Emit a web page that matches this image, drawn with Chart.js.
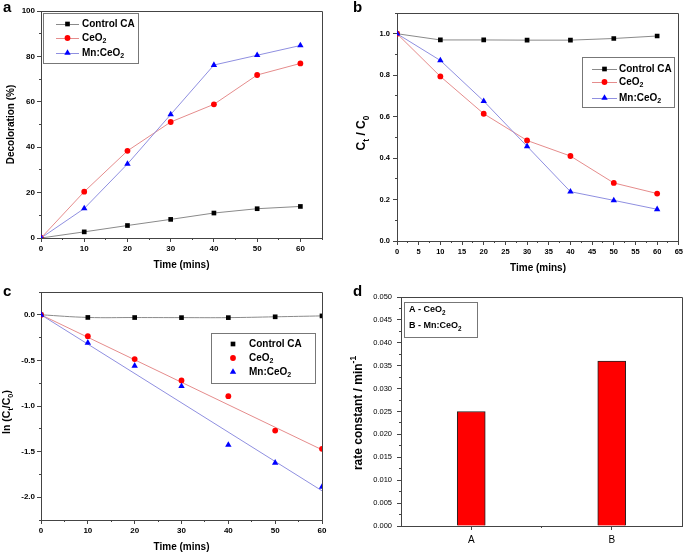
<!DOCTYPE html>
<html>
<head>
<meta charset="utf-8">
<script src="https://cdn.jsdelivr.net/npm/chart.js@4.4.1/dist/chart.umd.min.js"></script>
<style>
  body { margin: 0; background: #fff; }
  #figure { position: relative; width: 685px; height: 554px; background: #fff; }
  canvas { position: absolute; }
</style>
</head>
<body>
<div id="figure">
  <canvas id="chartA" width="342" height="277" style="left:0;top:0"></canvas>
  <canvas id="chartB" width="343" height="277" style="left:342px;top:0"></canvas>
  <canvas id="chartC" width="342" height="277" style="left:0;top:277px"></canvas>
  <canvas id="chartD" width="343" height="277" style="left:342px;top:277px"></canvas>
</div>
<script>
// sampling times (mins)
const times = [0, 10, 20, 30, 40, 50, 60];

// a - decoloration (%)
const decoControl = [0, 2.7, 5.5, 8.2, 11.0, 12.9, 13.9];
const decoCeO2 = [0, 20.4, 38.4, 51.1, 58.9, 71.8, 76.9];
const decoMn = [0, 13.0, 32.6, 54.4, 76.2, 80.5, 84.8];

// b - Ct / C0
const ratioControl = [1.0, 0.97, 0.97, 0.969, 0.969, 0.977, 0.989];
const ratioCeO2 = [1.0, 0.794, 0.614, 0.485, 0.41, 0.28, 0.229];
const ratioMn = [1.0, 0.871, 0.675, 0.457, 0.238, 0.196, 0.153];

// c - ln(Ct/C0) and linear fits
const lnControl = [0, -0.029, -0.03, -0.031, -0.031, -0.022, -0.012];
const lnCeO2 = [0, -0.234, -0.486, -0.72, -0.892, -1.269, -1.47];
const lnMn = [0, -0.307, -0.559, -0.782, -1.426, -1.623, -1.887];
const fitTimes = [0, 60];
const fitCeO2 = [0, -1.48];
const fitMn = [0, -1.93];

// d - rate constants
const rateLabels = ["A", "B"];
const rateValues = [0.025, 0.036];

const fontFamily = '"Liberation Sans", Arial, sans-serif';
const axisColor = "#444";
const markers = {
  control: { style: "rect", color: "#000", r: 3.3, line: "#8a8a8a" },
  ceo2: { style: "circle", color: "#ff0000", r: 2.9, line: "#e58c8c" },
  mn: { style: "triangle", color: "#0000ff", r: 3.7, line: "#8f8fe0" },
};

const pts = (xs, ys) => xs.map((x, i) => ({ x: x, y: ys[i] }));

function series(data, m, order, showLine) {
  return {
    data: data,
    showLine: showLine,
    borderColor: m.line,
    borderWidth: 1,
    pointStyle: m.style,
    pointRadius: m.r,
    pointBackgroundColor: m.color,
    pointBorderColor: m.color,
    pointBorderWidth: 0,
    order: order,
    marker: m,
  };
}

function linAxis(min, max, step, decimals, size, weight, pad, fit) {
  return {
    type: "linear",
    min: min,
    max: max,
    ticks: {
      stepSize: step,
      padding: pad,
      color: "#000",
      font: { family: fontFamily, size: size, weight: weight },
      callback: (v) => Number(v).toFixed(decimals),
    },
    grid: { drawOnChartArea: false, color: axisColor, tickLength: 4 },
    border: { color: axisColor },
    // major ticks on whole multiples of the step only
    afterBuildTicks: (scale) => {
      const list = [];
      const first = Math.ceil(min / step - 1e-6);
      const last = Math.floor(max / step + 1e-6);
      for (let n = first; n <= last; n++) {
        list.push({ value: Math.round(n * step * 1e6) / 1e6 });
      }
      scale.ticks = list;
    },
    afterFit: (scale) => {
      if (scale.isHorizontal()) scale.height = fit;
      else scale.width = fit;
    },
  };
}

function baseOptions(pad, scales) {
  return {
    responsive: false,
    animation: false,
    layout: { padding: pad },
    plugins: { legend: { display: false }, tooltip: { enabled: false } },
    scales: scales,
  };
}

// text with sub/superscripts, parts = [[text, ""|"sub"|"sup"], ...]
function drawRich(ctx, parts, x, y, size, weight, align) {
  const font = (s) => `${weight} ${s}px ${fontFamily}`;
  let total = 0;
  parts.forEach(([t, m]) => {
    ctx.font = font(m ? size * 0.7 : size);
    total += ctx.measureText(t).width;
  });
  let cx = align === "center" ? x - total / 2 : x;
  ctx.textAlign = "left";
  ctx.textBaseline = "middle";
  ctx.fillStyle = "#000";
  parts.forEach(([t, m]) => {
    const s = m ? size * 0.7 : size;
    ctx.font = font(s);
    const dy = m === "sub" ? size * 0.35 : m === "sup" ? -size * 0.4 : 0;
    ctx.fillText(t, cx, y + dy);
    cx += ctx.measureText(t).width;
  });
}

function drawMarker(ctx, m, x, y) {
  ctx.fillStyle = m.color;
  ctx.beginPath();
  if (m.style === "rect") {
    const s = m.r * Math.SQRT1_2;
    ctx.rect(x - s, y - s, 2 * s, 2 * s);
  } else if (m.style === "triangle") {
    for (let k = 0; k < 3; k++) {
      const a = (k * 2 * Math.PI) / 3;
      const px = x + Math.sin(a) * m.r;
      const py = y - Math.cos(a) * m.r;
      if (k) ctx.lineTo(px, py);
      else ctx.moveTo(px, py);
    }
    ctx.closePath();
  } else {
    ctx.arc(x, y, m.r, 0, Math.PI * 2);
  }
  ctx.fill();
}

const align = (p) => Math.round(p - 0.5) + 0.5;

function minorTicks(ctx, scale, step, area) {
  if (!step) return;
  const first = Math.ceil(scale.min / step - 1e-6);
  const last = Math.floor(scale.max / step + 1e-6);
  ctx.beginPath();
  for (let n = first; n <= last; n++) {
    if (Math.abs(n % 2) !== 1) continue;
    const p = align(scale.getPixelForValue(n * step));
    if (scale.isHorizontal()) {
      ctx.moveTo(p, area.bottom);
      ctx.lineTo(p, area.bottom + 2);
    } else {
      ctx.moveTo(area.left - 2, p);
      ctx.lineTo(area.left, p);
    }
  }
  ctx.stroke();
}

// frame, minor ticks, titles and the boxed legend
function decor(cfg) {
  return {
    id: "decor",
    afterDraw(chart) {
      const ctx = chart.ctx;
      const area = chart.chartArea;
      ctx.save();
      ctx.strokeStyle = axisColor;
      ctx.lineWidth = 1;
      ctx.beginPath();
      ctx.moveTo(align(area.left), align(area.top));
      ctx.lineTo(align(area.right), align(area.top));
      ctx.lineTo(align(area.right), align(area.bottom));
      ctx.stroke();
      minorTicks(ctx, chart.scales.x, cfg.xMinor, area);
      minorTicks(ctx, chart.scales.y, cfg.yMinor, area);

      cfg.titles.forEach((t) => {
        if (t.rotate) {
          ctx.save();
          ctx.translate(t.x, t.y);
          ctx.rotate(-Math.PI / 2);
          drawRich(ctx, t.parts, 0, 0, t.size, "bold", "center");
          ctx.restore();
        } else {
          drawRich(ctx, t.parts, t.x, t.y, t.size, "bold", t.align || "center");
        }
      });

      const lg = cfg.legend;
      const b = lg.box;
      ctx.strokeStyle = "#777";
      ctx.strokeRect(align(b[0]), align(b[1]), b[2] - b[0], b[3] - b[1]);
      lg.rows.forEach((row) => {
        const ds = chart.data.datasets[row.ds];
        if (ds) {
          const m = ds.marker;
          if (lg.line) {
            ctx.strokeStyle = m.line;
            ctx.beginPath();
            ctx.moveTo(lg.line[0], align(row.y));
            ctx.lineTo(lg.line[1], align(row.y));
            ctx.stroke();
          }
          drawMarker(ctx, m, lg.mx, row.y);
        }
        drawRich(ctx, row.parts, lg.tx, row.y, lg.size, "bold", "left");
      });
      ctx.restore();
    },
  };
}

const ceo2Text = [["CeO", ""], ["2", "sub"]];
const mnText = [["Mn:CeO", ""], ["2", "sub"]];

// a
new Chart(document.querySelector("#chartA"), {
  type: "scatter",
  data: {
    datasets: [
      series(pts(times, decoControl), markers.control, 2, true),
      series(pts(times, decoCeO2), markers.ceo2, 1, true),
      series(pts(times, decoMn), markers.mn, 0, true),
    ],
  },
  options: baseOptions({ left: 0, top: 11, right: 20, bottom: 0 }, {
    x: linAxis(0, 65, 10, 0, 8, "bold", 2, 39),
    y: linAxis(0, 100, 20, 0, 8, "bold", 2, 41),
  }),
  plugins: [decor({
    xMinor: 5,
    yMinor: 10,
    titles: [
      { parts: [["a", ""]], x: 3, y: 8, size: 15, align: "left" },
      { parts: [["Time (mins)", ""]], x: 181.5, y: 265, size: 10 },
      { parts: [["Decoloration (%)", ""]], x: 11, y: 124.5, size: 10, rotate: true },
    ],
    legend: {
      box: [43, 13, 138, 63], line: [56, 79], mx: 67.5, tx: 82, size: 10,
      rows: [
        { ds: 0, y: 24, parts: [["Control CA", ""]] },
        { ds: 1, y: 38, parts: ceo2Text },
        { ds: 2, y: 53, parts: mnText },
      ],
    },
  })],
});

// b
new Chart(document.querySelector("#chartB"), {
  type: "scatter",
  data: {
    datasets: [
      series(pts(times, ratioControl), markers.control, 2, true),
      series(pts(times, ratioCeO2), markers.ceo2, 1, true),
      series(pts(times, ratioMn), markers.mn, 0, true),
    ],
  },
  options: baseOptions({ left: 0, top: 13, right: 6, bottom: 0 }, {
    x: linAxis(0, 65, 5, 0, 7.5, "bold", 2, 36),
    y: linAxis(0, 1.1, 0.2, 1, 7.5, "bold", 3, 55),
  }),
  plugins: [decor({
    xMinor: 2.5,
    yMinor: 0.1,
    titles: [
      { parts: [["b", ""]], x: 11, y: 8, size: 15, align: "left" },
      { parts: [["Time (mins)", ""]], x: 196, y: 268, size: 10 },
      { parts: [["C", ""], ["t", "sub"], [" / C", ""], ["0", "sub"]], x: 20, y: 133, size: 12, rotate: true },
    ],
    legend: {
      box: [240, 57, 332, 107], line: [250, 275], mx: 262.5, tx: 277, size: 10,
      rows: [
        { ds: 0, y: 69, parts: [["Control CA", ""]] },
        { ds: 1, y: 82, parts: ceo2Text },
        { ds: 2, y: 98, parts: mnText },
      ],
    },
  })],
});

// c
const fitCeO2Set = series(pts(fitTimes, fitCeO2), markers.ceo2, 4, true);
fitCeO2Set.pointRadius = 0;
const fitMnSet = series(pts(fitTimes, fitMn), markers.mn, 3, true);
fitMnSet.pointRadius = 0;
const lnControlSet = series(pts(times, lnControl), markers.control, 2, true);
lnControlSet.tension = 0.4;

new Chart(document.querySelector("#chartC"), {
  type: "scatter",
  data: {
    datasets: [
      lnControlSet,
      series(pts(times, lnCeO2), markers.ceo2, 1, false),
      series(pts(times, lnMn), markers.mn, 0, false),
      fitCeO2Set,
      fitMnSet,
    ],
  },
  options: baseOptions({ left: 0, top: 15, right: 20, bottom: 0 }, {
    x: linAxis(0, 60, 10, 0, 8, "bold", 2, 34),
    y: linAxis(-2.25, 0.25, 0.5, 1, 8, "bold", 2, 41),
  }),
  plugins: [decor({
    xMinor: 5,
    yMinor: 0.25,
    titles: [
      { parts: [["c", ""]], x: 3, y: 15, size: 15, align: "left" },
      { parts: [["Time (mins)", ""]], x: 181.5, y: 270, size: 10 },
      { parts: [["ln (C", ""], ["t", "sub"], ["/C", ""], ["0", "sub"], [")", ""]], x: 7, y: 135, size: 10.5, rotate: true },
    ],
    legend: {
      box: [211, 56, 315, 106], line: null, mx: 233, tx: 249, size: 10,
      rows: [
        { ds: 0, y: 67, parts: [["Control CA", ""]] },
        { ds: 1, y: 81, parts: ceo2Text },
        { ds: 2, y: 95, parts: mnText },
      ],
    },
  })],
});

// d
new Chart(document.querySelector("#chartD"), {
  type: "bar",
  data: {
    labels: rateLabels,
    datasets: [
      {
        data: rateValues,
        backgroundColor: "#ff0000",
        borderColor: "#222",
        borderWidth: 1,
        barThickness: 28,
      },
    ],
  },
  options: baseOptions({ left: 0, top: 20, right: 3, bottom: 0 }, {
    x: {
      type: "category",
      offset: true,
      ticks: { color: "#000", padding: 4, font: { family: fontFamily, size: 10 } },
      grid: { offset: false, drawOnChartArea: false, color: axisColor, tickLength: 4 },
      border: { color: axisColor },
      afterFit: (scale) => { scale.height = 28; },
    },
    y: linAxis(0, 0.05, 0.005, 3, 7.5, "normal", 5, 59),
  }),
  plugins: [decor({
    xMinor: 0.5,
    yMinor: 0.0025,
    titles: [
      { parts: [["d", ""]], x: 11, y: 15, size: 15, align: "left" },
      { parts: [["rate constant / min", ""], ["-1", "sup"]], x: 16.5, y: 136, size: 12, rotate: true },
    ],
    legend: {
      box: [62, 25, 135, 60], line: null, mx: 0, tx: 67, size: 9,
      rows: [
        { ds: -1, y: 33, parts: [["A - CeO", ""], ["2", "sub"]] },
        { ds: -1, y: 49, parts: [["B - Mn:CeO", ""], ["2", "sub"]] },
      ],
    },
  })],
});
</script>
</body>
</html>
